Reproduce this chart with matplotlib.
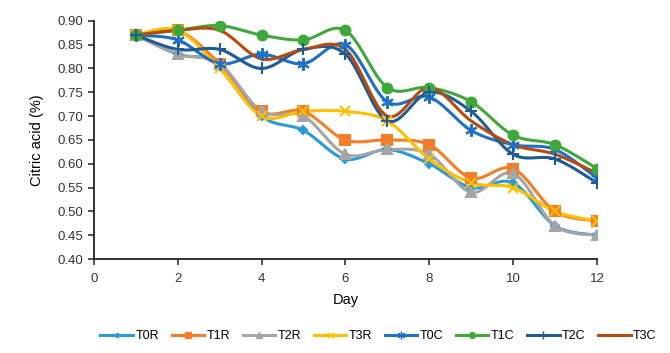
import numpy as np
import matplotlib.pyplot as plt
from matplotlib import font_manager

# data
days = [1, 2, 3, 4, 5, 6, 7, 8, 9, 10, 11, 12]
t0r = [0.87, 0.83, 0.81, 0.70, 0.67, 0.61, 0.63, 0.60, 0.55, 0.56, 0.47, 0.45]
t1r = [0.87, 0.88, 0.81, 0.71, 0.71, 0.65, 0.65, 0.64, 0.57, 0.59, 0.50, 0.48]
t2r = [0.87, 0.83, 0.81, 0.71, 0.70, 0.62, 0.63, 0.62, 0.54, 0.58, 0.47, 0.45]
t3r = [0.87, 0.88, 0.80, 0.70, 0.71, 0.71, 0.69, 0.61, 0.56, 0.55, 0.50, 0.48]
t0c = [0.87, 0.86, 0.81, 0.83, 0.81, 0.85, 0.73, 0.74, 0.67, 0.64, 0.63, 0.57]
t1c = [0.87, 0.88, 0.89, 0.87, 0.86, 0.88, 0.76, 0.76, 0.73, 0.66, 0.64, 0.59]
t2c = [0.87, 0.84, 0.84, 0.80, 0.84, 0.83, 0.69, 0.75, 0.71, 0.62, 0.61, 0.56]
t3c = [0.87, 0.88, 0.88, 0.82, 0.84, 0.84, 0.70, 0.76, 0.69, 0.64, 0.62, 0.58]

names = ['T0R', 'T1R', 'T2R', 'T3R', 'T0C', 'T1C', 'T2C', 'T3C']
series = [t0r, t1r, t2r, t3r, t0c, t1c, t2c, t3c]
colors = ['#2A9AD8', '#F47D28', '#A5A5A5', '#FFBF00',
          '#1E6FC8', '#3EA83A', '#1F5C93', '#B84A0E']
markers = ['D', 's', '^', 'x', (6, 2, 0), 'o', '+', None]
msizes = [4, 7, 7, 7, 9, 7, 9, 0]

names_avail = {f.name for f in font_manager.fontManager.ttflist}
fam = 'Liberation Sans Narrow' if 'Liberation Sans Narrow' in names_avail else 'Liberation Sans'
plt.rcParams['font.family'] = [fam, 'DejaVu Sans']


def smooth(x, y, n=20):
    # Catmull-Rom style curve like Excel's smoothed line
    x = np.asarray(x, float)
    y = np.asarray(y, float)
    px = np.concatenate([[x[0]], x, [x[-1]]])
    py = np.concatenate([[y[0]], y, [y[-1]]])
    xs, ys = [], []
    t = np.linspace(0, 1, n)
    for i in range(1, len(px) - 2):
        p0, p1, p2, p3 = (np.array([px[j], py[j]]) for j in range(i - 1, i + 3))
        c1 = p1 + (p2 - p0) / 6
        c2 = p2 - (p3 - p1) / 6
        b = ((1 - t) ** 3)[:, None] * p1 + (3 * (1 - t) ** 2 * t)[:, None] * c1 \
            + (3 * (1 - t) * t ** 2)[:, None] * c2 + (t ** 3)[:, None] * p2
        xs.extend(b[:, 0])
        ys.extend(b[:, 1])
    return xs, ys


fig = plt.figure(figsize=(6.7, 3.53), dpi=100)
ax = fig.add_axes([0.140, 0.266, 0.751, 0.675])

for name, vals, c, m, ms in zip(names, series, colors, markers, msizes):
    sx, sy = smooth(days, vals)
    ax.plot(sx, sy, color=c, lw=2.2, zorder=2)
    if m is not None:
        ax.plot(days, vals, ls='none', marker=m, color=c, ms=ms, mew=1.5, zorder=3)
    ax.plot([], [], color=c, lw=2.2, marker=m, ms=ms * 0.6, mew=1, label=name)

ax.set_xlim(0, 12)
ax.set_ylim(0.40, 0.90)
ax.set_xticks(range(0, 13, 2))
ax.set_yticks(np.arange(0.40, 0.901, 0.05))
ax.set_yticklabels([f'{v:.2f}' for v in np.arange(0.40, 0.901, 0.05)])
ax.tick_params(labelsize=9.5, colors='#333333', direction='out', length=4, width=1.2)
ax.tick_params(axis='x', pad=6)
for s in ['top', 'right']:
    ax.spines[s].set_visible(False)
for s in ['left', 'bottom']:
    ax.spines[s].set_linewidth(1.3)
    ax.spines[s].set_color('#222222')
ax.set_xlabel('Day', fontsize=10.5, labelpad=6)
ax.set_ylabel('Citric acid (%)', fontsize=10.5, labelpad=10)

fig.legend(loc='center', bbox_to_anchor=(0.565, 0.048), ncol=8, frameon=False,
           fontsize=9, handlelength=2.6, handletextpad=0.2, columnspacing=1.0)

fig.savefig('out.png', dpi=100)
